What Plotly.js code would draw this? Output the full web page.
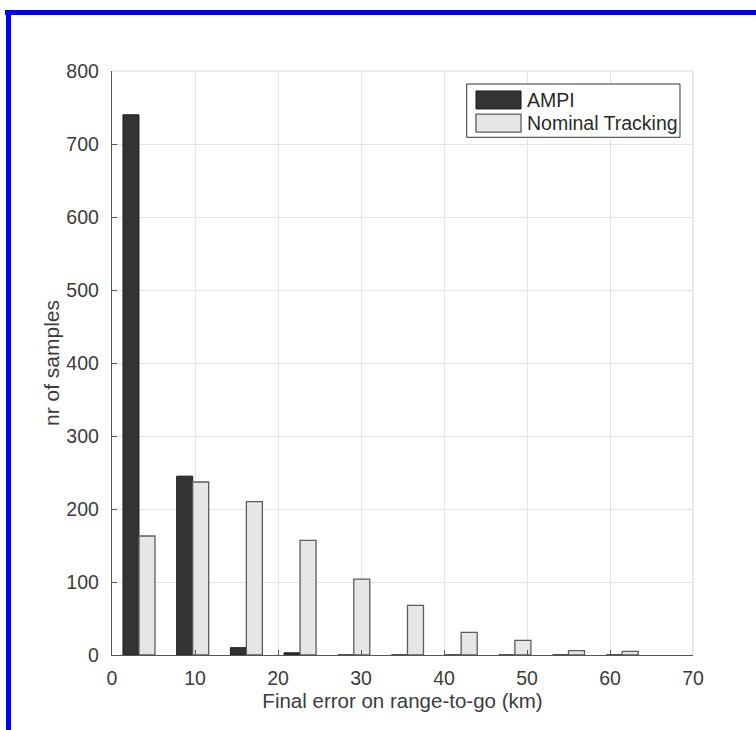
<!DOCTYPE html>
<html>
<head>
<meta charset="utf-8">
<script src="https://cdn.plot.ly/plotly-3.0.1.min.js"></script>
<style>
  html, body { margin: 0; padding: 0; background: #ffffff; }
  #wrap { position: relative; width: 756px; height: 730px; overflow: hidden; }
  #chart { position: absolute; left: 0; top: 0; width: 756px; height: 730px; }
  #frameTop { position: absolute; left: 5px; top: 10px; width: 751px; height: 5px; background: #0000ff; pointer-events: none; }
  #frameLeft { position: absolute; left: 6px; top: 10px; width: 5px; height: 720px; background: #0000ff; pointer-events: none; }
</style>
</head>
<body>
<div id="wrap">
  <div id="chart"></div>
  <div id="frameTop"></div>
  <div id="frameLeft"></div>
</div>
<script>
// Histogram bin centres (km) and counts
const binCenters = [3.25, 9.72, 16.19, 22.66, 29.13, 35.6, 42.07, 48.54, 55.0, 61.47];
const ampiCounts = [740, 245, 10, 3, 0, 0, 0, 0, 0, 0];
const nominalCounts = [163, 237, 210, 157, 104, 68, 31, 20, 6, 5];
const seriesNames = ["AMPI", "Nominal Tracking"];
const xTicks = [0, 10, 20, 30, 40, 50, 60, 70];
const yTicks = [0, 100, 200, 300, 400, 500, 600, 700, 800];

const FONT = "'Liberation Sans', Arial, Helvetica, sans-serif";
const TXT = "#3c3c3c";

const traces = [
  {
    type: "bar", name: seriesNames[0], x: binCenters, y: ampiCounts,
    marker: { color: "#333333", line: { color: "#1c1c1c", width: 1 } },
    hoverinfo: "x+y"
  },
  {
    type: "bar", name: seriesNames[1], x: binCenters, y: nominalCounts,
    marker: { color: "#e6e6e6", line: { color: "#5c5c5c", width: 1.3 } },
    hoverinfo: "x+y"
  }
];

const layout = {
  width: 756, height: 730,
  margin: { l: 112, r: 63, t: 71, b: 75, pad: 0 },
  paper_bgcolor: "#ffffff", plot_bgcolor: "#ffffff",
  barmode: "group", bargap: 0.403, bargroupgap: 0,
  showlegend: false,
  font: { family: FONT, color: TXT, size: 19 },
  xaxis: {
    range: [0, 70], tickvals: xTicks, ticktext: xTicks.map(String),
    ticks: "inside", ticklen: 5, tickwidth: 1, tickcolor: "#555555",
    showline: true, linecolor: "#555555", linewidth: 1.2,
    showgrid: true, gridcolor: "#e4e4e4", gridwidth: 1,
    zeroline: false, fixedrange: true,
    tickfont: { family: FONT, size: 19.5, color: TXT },
    ticklabelstandoff: 5,
    title: { text: "Final error on range-to-go (km)", font: { family: FONT, size: 20.5, color: TXT }, standoff: 4 }
  },
  yaxis: {
    range: [0, 800], tickvals: yTicks, ticktext: yTicks.map(String),
    ticks: "inside", ticklen: 5, tickwidth: 1, tickcolor: "#555555",
    showline: true, linecolor: "#555555", linewidth: 1.2,
    showgrid: true, gridcolor: "#e4e4e4", gridwidth: 1,
    zeroline: false, fixedrange: true,
    tickfont: { family: FONT, size: 19.5, color: TXT },
    ticklabelstandoff: 8,
    title: { text: "nr of samples", font: { family: FONT, size: 21, color: TXT }, standoff: 1 }
  },
  shapes: [
    // light box top/right edges
    { type: "line", xref: "paper", yref: "paper", x0: 0, x1: 1, y0: 1, y1: 1, line: { color: "#d9d9d9", width: 1.2 }, layer: "above" },
    { type: "line", xref: "paper", yref: "paper", x0: 1, x1: 1, y0: 0, y1: 1, line: { color: "#d9d9d9", width: 1.2 }, layer: "above" },
    // legend box
    { type: "rect", xref: "paper", yref: "paper", x0: 0.6105, x1: 0.9776, y0: 0.8865, y1: 0.9777,
      fillcolor: "#ffffff", line: { color: "#333333", width: 1 }, layer: "above" },
    // legend swatches
    { type: "rect", xref: "paper", yref: "paper", x0: 0.6265, x1: 0.7040, y0: 0.9350, y1: 0.9658,
      fillcolor: "#333333", line: { color: "#1c1c1c", width: 1 }, layer: "above" },
    { type: "rect", xref: "paper", yref: "paper", x0: 0.6265, x1: 0.7040, y0: 0.8955, y1: 0.9263,
      fillcolor: "#e6e6e6", line: { color: "#5c5c5c", width: 1.3 }, layer: "above" }
  ],
  annotations: [
    { xref: "paper", yref: "paper", x: 0.7105, y: 0.9504, xanchor: "left", yanchor: "middle",
      text: seriesNames[0], showarrow: false, font: { family: FONT, size: 19.5, color: "#2a2a2a" } },
    { xref: "paper", yref: "paper", x: 0.7105, y: 0.9109, xanchor: "left", yanchor: "middle",
      text: seriesNames[1], showarrow: false, font: { family: FONT, size: 19.5, color: "#2a2a2a" } }
  ]
};

Plotly.newPlot("chart", traces, layout, { displayModeBar: false, staticPlot: true });
</script>
</body>
</html>
